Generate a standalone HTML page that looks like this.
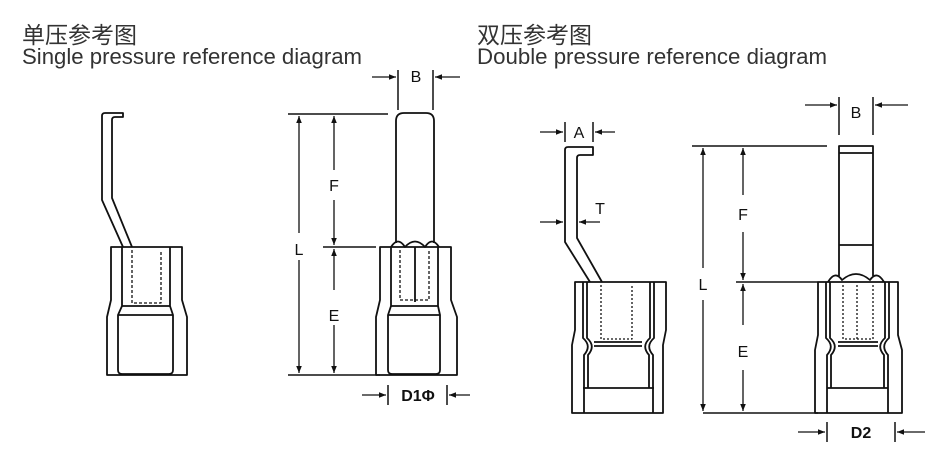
<!DOCTYPE html>
<html><head><meta charset="utf-8"><style>
html,body{margin:0;padding:0;background:#fff;}
svg{display:block;}
</style></head><body>
<svg width="940" height="456" viewBox="0 0 940 456" xmlns="http://www.w3.org/2000/svg">
<defs>
<marker id="ah" viewBox="0 0 10 10" refX="10" refY="5" markerWidth="7" markerHeight="7" orient="auto-start-reverse" markerUnits="userSpaceOnUse"><path d="M0,1 L10,5 L0,9 z" fill="#111"/></marker>
</defs>
<g font-family="'Liberation Sans','Noto Sans CJK SC',sans-serif" fill="#333">
<text x="22" y="43" font-size="23">单压参考图</text>
<text x="22" y="64" font-size="22" textLength="340" lengthAdjust="spacingAndGlyphs">Single pressure reference diagram</text>
<text x="477" y="43" font-size="23">双压参考图</text>
<text x="477" y="64" font-size="22" textLength="350" lengthAdjust="spacingAndGlyphs">Double pressure reference diagram</text>
</g>
<g fill="none" stroke="#111" stroke-width="1.8" stroke-linejoin="round">
<!-- single left -->
<path d="M123,247 L102,200 L102,116 Q102,113 105,113 L123,113 L123,117 L115,117 Q112,117 112,120 L112,198 L132,247"/>
<path d="M111,247 L182,247 L182,300 L187,317 L187,375 L107,375 L107,317 L111,300 Z"/>
<path d="M122,247 L122,306 L118,315 L118,370 Q118,374 122,374 L169,374 Q173,374 173,370 L173,315 L170,306 L170,247"/>
<path d="M122,306 L170,306 M118,315 L173,315"/>
<path d="M132,250 L132,303 L161,303 L161,250" stroke-dasharray="3,2" stroke-width="1.3"/>
<!-- single right -->
<path d="M396,243 L396,121 Q396,113 404,113 L426,113 Q434,113 434,121 L434,243"/>
<path d="M380,247 L451,247 L451,300 L457,317 L457,375 L376,375 L376,317 L380,300 Z"/>
<path d="M391,247 Q398,236 405,247 Q415,236 425,247 Q432,236 439,247"/>
<path d="M391,247 L391,306 L388,315 L388,370 Q388,374 392,374 L436,374 Q440,374 440,370 L440,315 L438,306 L438,247"/>
<path d="M391,306 L438,306 M388,315 L440,315 M415,247 L415,302"/>
<path d="M400,250 L400,300 L429,300 L429,250" stroke-dasharray="3,2" stroke-width="1.3"/>
<!-- dims single -->
<path d="M288,114 L388,114 M323,247 L376,247 M288,375 L380,375" stroke-width="1.5"/>
<path d="M398,70 L398,110 M433,70 L433,110 M388,385 L388,405 M447,385 L447,405" stroke-width="1.5"/>
</g>
<g stroke="#111" stroke-width="1.3" fill="none">
<line x1="299" y1="116" x2="299" y2="233" marker-start="url(#ah)"/>
<line x1="299" y1="260" x2="299" y2="373" marker-end="url(#ah)"/>
<line x1="334" y1="170" x2="334" y2="116" marker-end="url(#ah)"/>
<line x1="334" y1="200" x2="334" y2="245" marker-end="url(#ah)"/>
<line x1="334" y1="290" x2="334" y2="249" marker-end="url(#ah)"/>
<line x1="334" y1="325" x2="334" y2="373" marker-end="url(#ah)"/>
<line x1="372" y1="77" x2="396" y2="77" marker-end="url(#ah)"/>
<line x1="460" y1="77" x2="435" y2="77" marker-end="url(#ah)"/>
<line x1="362" y1="395" x2="386" y2="395" marker-end="url(#ah)"/>
<line x1="470" y1="395" x2="449" y2="395" marker-end="url(#ah)"/>
</g>
<g font-family="'Liberation Sans',sans-serif" font-size="16" fill="#111" text-anchor="middle">
<text x="416" y="82">B</text>
<text x="299" y="255">L</text>
<text x="334" y="191">F</text>
<text x="334" y="321">E</text>
<text x="418" y="401" font-weight="bold">D1Φ</text>
</g>
<!-- double -->
<g fill="none" stroke="#111" stroke-width="1.8" stroke-linejoin="round">
<path d="M590,282 L565,242 L565,150 Q565,147 568,147 L593,147 L593,155 L580,155 Q577,155 577,158 L577,238 L602,282"/>
<path d="M575,282 L666,282 L666,330 L663,345 L663,413 L583,413 L572,413 L572,345 L575,330 Z"/>
<path d="M583,282 L583,338 Q592,346 584,355 L584,413 M587,282 L587,338 Q596,346 588,355 L588,388 M654,282 L654,338 Q645,346 653,355 L653,413 M650,282 L650,338 Q641,346 649,355 L649,388"/>
<path d="M583,388 L654,388 M594,342 L642,342 M594,346 L642,346"/>
<path d="M601,285 L601,339 L632,339 L632,285" stroke-dasharray="2,2" stroke-width="1.3"/>
<path d="M839,276 L839,146 L873,146 L873,276 M839,153 L873,153 M839,245 L873,245"/>
<path d="M818,282 L898,282 L898,335 L902,350 L902,413 L815,413 L815,350 L818,335 Z"/>
<path d="M828,282 Q835,270 842,280 Q856,268 870,280 Q877,270 884,282"/>
<path d="M826,282 L826,338 Q835,346 827,355 L827,413 M830,282 L830,338 Q839,346 831,355 L831,388 M889,282 L889,338 Q880,346 888,355 L888,413 M885,282 L885,338 Q876,346 884,355 L884,388"/>
<path d="M827,388 L888,388 M838,342 L878,342 M838,346 L878,346"/>
<path d="M843,285 L843,339 L873,339 L873,285 M857,285 L857,339" stroke-dasharray="2,2" stroke-width="1.3"/>
<path d="M692,146 L827,146 M736,282 L818,282 M703,413 L818,413" stroke-width="1.5"/>
<path d="M565,122 L565,142 M593,122 L593,142 M839,97 L839,135 M873,97 L873,135 M827,422 L827,442 M895,422 L895,442" stroke-width="1.5"/>
</g>
<g stroke="#111" stroke-width="1.3">
<line x1="703" y1="148" x2="703" y2="268" marker-start="url(#ah)"/>
<line x1="703" y1="300" x2="703" y2="411" marker-end="url(#ah)"/>
<line x1="743" y1="195" x2="743" y2="148" marker-end="url(#ah)"/>
<line x1="743" y1="232" x2="743" y2="280" marker-end="url(#ah)"/>
<line x1="743" y1="325" x2="743" y2="284" marker-end="url(#ah)"/>
<line x1="743" y1="370" x2="743" y2="411" marker-end="url(#ah)"/>
<line x1="540" y1="132" x2="563" y2="132" marker-end="url(#ah)"/>
<line x1="615" y1="132" x2="595" y2="132" marker-end="url(#ah)"/>
<line x1="540" y1="222" x2="563" y2="222" marker-end="url(#ah)"/>
<line x1="600" y1="222" x2="579" y2="222" marker-end="url(#ah)"/>
<line x1="805" y1="105" x2="837" y2="105" marker-end="url(#ah)"/>
<line x1="908" y1="105" x2="875" y2="105" marker-end="url(#ah)"/>
<line x1="798" y1="432" x2="825" y2="432" marker-end="url(#ah)"/>
<line x1="925" y1="432" x2="897" y2="432" marker-end="url(#ah)"/>
</g>
<g font-family="'Liberation Sans',sans-serif" font-size="16" fill="#111" text-anchor="middle">
<text x="579" y="138">A</text>
<text x="600" y="214">T</text>
<text x="856" y="118">B</text>
<text x="703" y="290">L</text>
<text x="743" y="220">F</text>
<text x="743" y="357">E</text>
<text x="861" y="438" font-weight="bold">D2</text>
</g>
</svg>
</body></html>
